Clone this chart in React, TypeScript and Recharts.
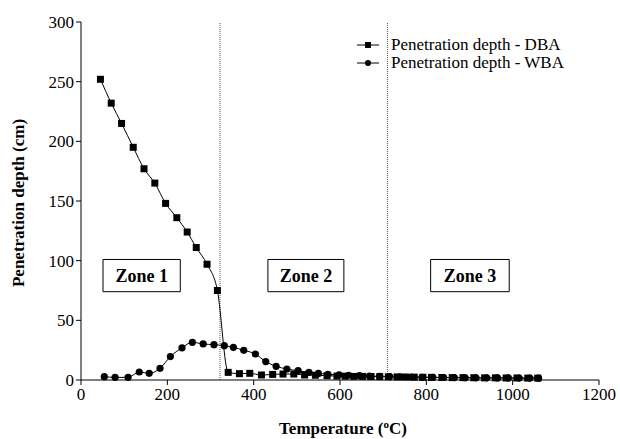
import * as React from 'react';
import {
  LineChart, Line, XAxis, YAxis, ReferenceLine, ReferenceArea,
} from 'recharts';

// temperature (°C) / penetration depth (cm)
const dbaTemp = [45, 70, 94, 121, 146, 171, 196, 222, 246, 267, 292, 316, 341, 367, 391, 418, 444, 468, 493, 518, 543, 570, 593,
  612, 632, 652, 672, 692, 712, 732, 752, 772, 792, 812, 836, 860, 885, 910, 935, 960, 985, 1010, 1035, 1058];
const dbaDepth = [252, 232, 215, 195, 177, 165, 148, 136, 124, 111, 97, 75, 6.4, 5.3, 5.6, 4.2, 4.7, 5, 5, 4.2, 4, 3.6, 3.3,
  3.2, 3, 3, 2.9, 2.8, 2.7, 2.6, 2.5, 2.4, 2.3, 2.2, 2.1, 2, 2, 1.9, 1.8, 1.8, 1.7, 1.7, 1.6, 1.6];

const wbaTemp = [54, 79, 109, 135, 158, 183, 207, 234, 258, 283, 308, 332, 353, 377, 404, 428, 452, 477, 503, 528, 550, 572, 598,
  620, 645, 668, 692, 715, 740, 765, 790, 815, 840, 865, 890, 915, 940, 965, 990, 1015, 1040, 1060];
const wbaDepth = [2.8, 2.2, 2.2, 6.7, 5.6, 9.8, 19.6, 27, 31.6, 30.2, 29.6, 28.8, 27.4, 24.9, 21.8, 15.4, 11.5, 9.2, 7.8, 6.4, 5.5, 4.8, 4.3,
  4, 3.6, 3.3, 3.1, 2.9, 2.7, 2.5, 2.3, 2.2, 2.1, 2, 1.9, 1.8, 1.8, 1.7, 1.7, 1.6, 1.6, 1.5];

const xTicks = [0, 200, 400, 600, 800, 1000, 1200];
const yTicks = [0, 50, 100, 150, 200, 250, 300];
const zoneBounds = [322, 710];
const zones = [
  { name: 'Zone 1', x1: 51, x2: 230 },
  { name: 'Zone 2', x1: 433, x2: 609 },
  { name: 'Zone 3', x1: 810, x2: 992 },
];
const legendItems = [
  { label: 'Penetration depth - DBA', square: true },
  { label: 'Penetration depth - WBA', square: false },
];

const dba = dbaTemp.map((t, i) => ({ t, d: dbaDepth[i] }));
const wba = wbaTemp.map((t, i) => ({ t, d: wbaDepth[i] }));

const FONT = '"Liberation Serif", "Times New Roman", serif';

const SquareDot = (props: any) => {
  const { cx, cy } = props;
  if (cx == null || cy == null) return null;
  return <rect key={`s${cx}`} x={cx - 3.5} y={cy - 3.5} width={7} height={7} fill="#000" />;
};

const RoundDot = (props: any) => {
  const { cx, cy } = props;
  if (cx == null || cy == null) return null;
  return <circle key={`c${cx}`} cx={cx} cy={cy} r={3.6} fill="#000" />;
};

const XTick = (props: any) => {
  const { x, y, payload } = props;
  return (
    <text x={x} y={y + 13} textAnchor="middle" fontFamily={FONT} fontSize={17} fill="#000">{payload.value}</text>
  );
};

const YTick = (props: any) => {
  const { x, y, payload } = props;
  return (
    <text x={x} y={y + 6} textAnchor="end" fontFamily={FONT} fontSize={17} fill="#000">{payload.value}</text>
  );
};

const LegendBox = () => (
  <div style={{ position: 'absolute', left: 357, top: 36, fontFamily: FONT, fontSize: 17, color: '#000', lineHeight: '18px' }}>
    {legendItems.map((e) => (
      <div key={e.label} style={{ display: 'flex', alignItems: 'center', height: 18, whiteSpace: 'nowrap' }}>
        <svg width={34} height={18} style={{ flex: 'none' }}>
          <line x1={0} y1={9} x2={22} y2={9} stroke="#000" />
          {e.square ? <rect x={8} y={6} width={6} height={6} fill="#000" /> : <circle cx={11} cy={9} r={3} fill="#000" />}
        </svg>
        <span>{e.label}</span>
      </div>
    ))}
  </div>
);

export default function App() {
  return (
    <div style={{ position: 'absolute', left: 0, top: 0, width: 620, height: 439, background: '#fff' }}>
      <LineChart width={620} height={439} margin={{ top: 22, right: 21, left: 0, bottom: 0 }} style={{ fontFamily: FONT }}>
        <XAxis
          dataKey="t" type="number" domain={[0, 1200]} ticks={xTicks} height={59}
          axisLine={{ stroke: '#000' }} tickLine={{ stroke: '#000' }} tickSize={5}
          tick={XTick}
          label={{
            content: () => (
              <text x={343} y={434} textAnchor="middle" fontFamily={FONT} fontSize={17} fontWeight="bold" fill="#000">
                Temperature (<tspan dy={-6} fontSize={11}>o</tspan><tspan dy={6}>C)</tspan>
              </text>
            ),
          }}
        />
        <XAxis xAxisId="top" orientation="top" dataKey="t" type="number" domain={[0, 1200]} height={0}
          tick={false} tickLine={false} axisLine={{ stroke: '#000' }} />
        <YAxis
          type="number" domain={[0, 300]} ticks={yTicks} width={81}
          axisLine={{ stroke: '#000' }} tickLine={{ stroke: '#000' }} tickSize={5}
          tick={YTick}
          label={{
            content: () => (
              <text x={24} y={203} transform="rotate(-90 24 203)" textAnchor="middle" fontFamily={FONT}
                fontSize={17} fontWeight="bold" fill="#000">
                Penetration depth (cm)
              </text>
            ),
          }}
        />
        <YAxis yAxisId="right" orientation="right" domain={[0, 300]} width={0}
          tick={false} tickLine={false} axisLine={{ stroke: '#000' }} />
        {zoneBounds.map((x) => (
          <ReferenceLine key={x} x={x} stroke="#555" strokeDasharray="1 1" />
        ))}
        {zones.map((z) => (
          <ReferenceArea key={z.name} x1={z.x1} x2={z.x2} y1={74} y2={101} fill="#fff" fillOpacity={1}
            stroke="#000" strokeWidth={1}
            label={{ value: z.name, position: 'center', fill: '#000', fontSize: 18, fontWeight: 'bold', fontFamily: FONT }} />
        ))}
        <Line data={dba} dataKey="d" name="Penetration depth - DBA" type="monotone" stroke="#000" strokeWidth={1}
          dot={SquareDot} activeDot={false} isAnimationActive={false} />
        <Line data={wba} dataKey="d" name="Penetration depth - WBA" type="monotone" stroke="#000" strokeWidth={1}
          dot={RoundDot} activeDot={false} isAnimationActive={false} />
      </LineChart>
      <LegendBox />
    </div>
  );
}
